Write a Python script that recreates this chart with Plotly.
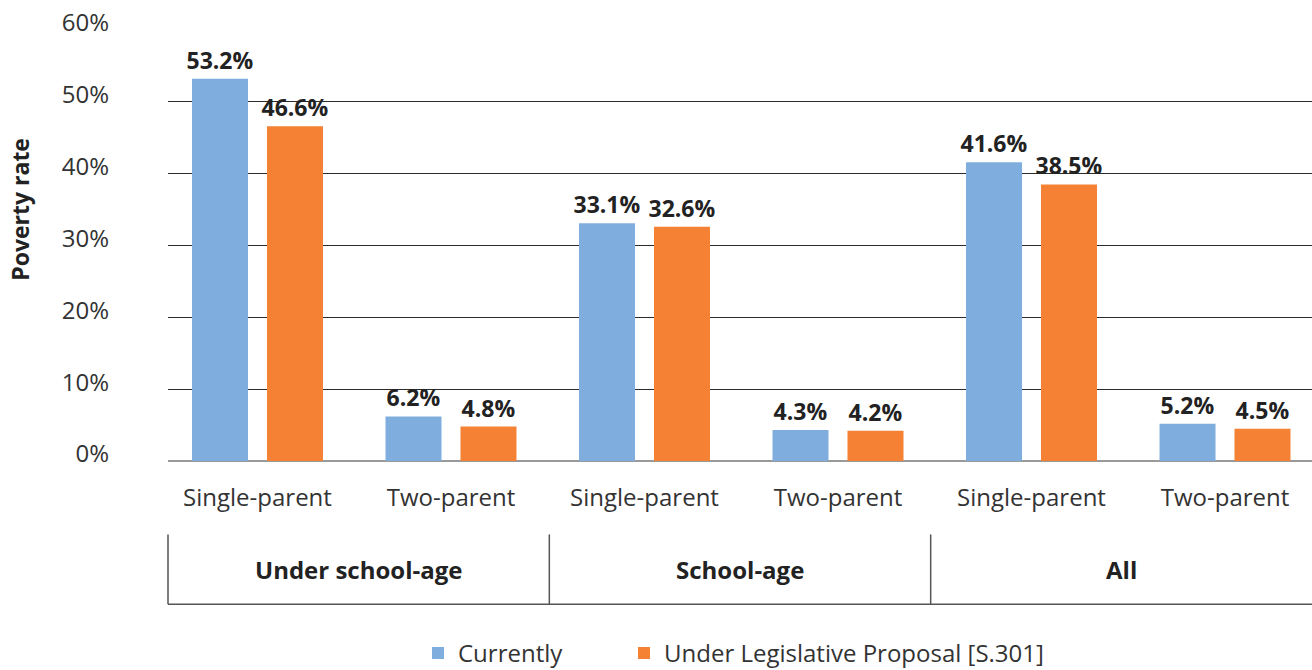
import plotly.graph_objects as go

# Household types along the x axis, grouped by age of the child
categories = ["Single-parent", "Two-parent", "Single-parent", "Two-parent", "Single-parent", "Two-parent"]
groups = ["Under school-age", "School-age", "All"]
currently = [53.2, 6.2, 33.1, 4.3, 41.6, 5.2]
proposal = [46.6, 4.8, 32.6, 4.2, 38.5, 4.5]
y_ticks = [0, 10, 20, 30, 40, 50, 60]

FONT = "Open Sans"
BLUE = "#7FAEDE"
ORANGE = "#F58234"
DARK = "#222222"
MID = "#333333"

positions = list(range(len(categories)))

PLOT_L, PLOT_W, PLOT_T, PLOT_H = 168, 1144, 30, 431.5


def px_x(px):
    return (px - PLOT_L) / PLOT_W


def px_y(px):
    return (PLOT_T + PLOT_H - px) / PLOT_H


fig = go.Figure()
series = [("Currently", currently, BLUE, "legend"),
          ("Under Legislative Proposal [S.301]", proposal, ORANGE, "legend2")]
for name, vals, color, leg in series:
    fig.add_trace(go.Bar(
        x=positions, y=vals, name=name, legend=leg,
        marker=dict(color=color, line=dict(width=0)),
        text=[f"{v:.1f}%" for v in vals], textposition="outside",
        textfont=dict(family=FONT, size=23, color=DARK, weight="bold"),
        constraintext="none", cliponaxis=False,
    ))

# Group box beneath the category labels: three equal panels
box_top, box_bottom = px_y(535), px_y(605)
shape_line = dict(color="#555555", width=1.5)
fig.add_shape(type="line", xref="paper", yref="paper", x0=0, x1=1, y0=box_bottom, y1=box_bottom, line=shape_line)
for d in [0, 1 / 3, 2 / 3]:
    fig.add_shape(type="line", xref="paper", yref="paper", x0=d, x1=d, y0=box_bottom, y1=box_top, line=shape_line)

for i, g in enumerate(groups):
    fig.add_annotation(
        x=(2 * i + 1) / 6, y=(box_top + box_bottom) / 2,
        xref="paper", yref="paper", xanchor="center", yanchor="middle",
        text=g, showarrow=False,
        font=dict(family=FONT, size=24, color=DARK, weight="bold"),
    )

# Rotated axis title
fig.add_annotation(
    x=px_x(20), y=px_y(210), xref="paper", yref="paper",
    xanchor="center", yanchor="middle",
    text="Poverty rate", showarrow=False, textangle=-90,
    font=dict(family=FONT, size=23, color=DARK, weight="bold"),
)

legend_common = dict(
    orientation="h", yanchor="middle", y=px_y(654), xanchor="left",
    font=dict(family=FONT, size=24, color=MID), bgcolor="rgba(0,0,0,0)",
)

fig.update_layout(
    width=1312, height=670,
    margin=dict(l=PLOT_L, r=0, t=PLOT_T, b=670 - PLOT_T - PLOT_H, autoexpand=False),
    paper_bgcolor="white", plot_bgcolor="white",
    barmode="group", bargap=0.225, bargroupgap=0.253,
    font=dict(family=FONT, color=MID),
    showlegend=True,
    legend=dict(x=px_x(418), **legend_common),
    legend2=dict(x=px_x(624), **legend_common),
    xaxis=dict(
        range=[-0.4625, 5.4496], tickvals=positions, ticktext=categories, tickangle=0,
        showgrid=False, zeroline=False, showline=False, ticks="",
        tickfont=dict(family=FONT, size=24, color=MID),
        ticklabelstandoff=20,
    ),
    yaxis=dict(
        range=[0, 60], tickvals=y_ticks, ticktext=[f"{v}%" for v in y_ticks],
        showgrid=True, gridcolor="#2b2b2b", gridwidth=1,
        zeroline=True, zerolinecolor="#9a9a9a", zerolinewidth=2,
        showline=False, ticks="",
        tickfont=dict(family=FONT, size=24, color=MID),
        ticklabelstandoff=58, ticklabelshift=-7,
    ),
)

fig.write_html("out.html")
